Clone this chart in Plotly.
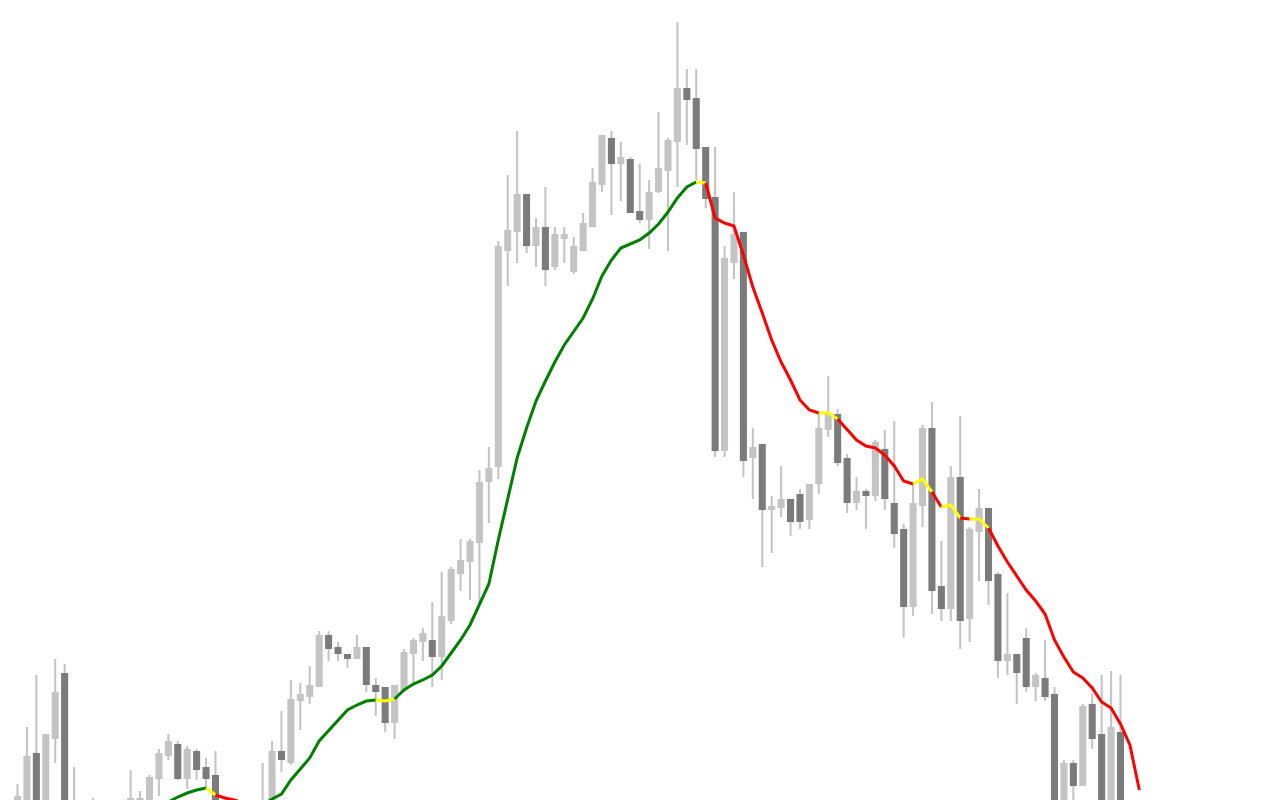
import plotly.graph_objects as go

# Candle data (price units), one entry per bar
open_ = [185, 192, 247, 194, 261, 327, 195, 178, 185, 190, 182, 188, 190, 192, 194, 221, 244, 256, 221, 249,
         233, 225, 185, 175, 182, 172, 170, 190, 249, 237, 299, 303, 313, 365, 353, 346, 341, 353, 315, 313,
         277, 310, 346, 358, 360, 343, 379, 426, 438, 457, 518, 533, 749, 768, 806, 754, 773, 733, 761, 728,
         749, 773, 815, 862, 836, 841, 789, 780, 808, 829, 858, 912, 902, 853, 803, 549, 737, 768, 542, 556,
         490, 492, 501, 506, 480, 516, 570, 586, 542, 497, 509, 504, 551, 497, 471, 393, 494, 572, 414, 391,
         523, 381, 468, 492, 426, 339, 346, 362, 313, 322, 306, 188, 237, 214, 296, 266, 190, 268, 185, 170]
high = [216, 273, 325, 266, 341, 336, 233, 195, 202, 196, 194, 198, 230, 209, 225, 251, 266, 259, 254, 251,
        242, 249, 194, 192, 190, 188, 237, 259, 289, 320, 317, 334, 369, 369, 358, 346, 365, 353, 322, 313,
        315, 351, 362, 372, 398, 428, 433, 461, 461, 530, 553, 759, 825, 869, 806, 782, 813, 773, 773, 763,
        787, 832, 865, 869, 858, 843, 836, 820, 888, 862, 978, 931, 931, 853, 853, 754, 808, 768, 572, 556,
        504, 534, 501, 511, 516, 587, 624, 591, 546, 523, 511, 560, 570, 579, 476, 516, 575, 598, 459, 534,
        584, 473, 511, 492, 428, 407, 346, 372, 327, 360, 313, 240, 240, 296, 306, 325, 329, 325, 195, 188]
low = [178, 185, 180, 188, 237, 178, 168, 170, 178, 174, 172, 180, 185, 188, 188, 204, 240, 220, 211, 220,
       212, 178, 165, 168, 162, 165, 162, 185, 228, 235, 270, 296, 313, 339, 339, 332, 341, 308, 284, 268,
       261, 308, 316, 339, 313, 320, 376, 409, 400, 395, 477, 521, 714, 737, 747, 733, 714, 730, 737, 726,
       749, 773, 808, 785, 799, 787, 777, 751, 807, 749, 813, 855, 820, 792, 543, 543, 721, 523, 501, 433,
       447, 483, 464, 471, 471, 506, 563, 534, 487, 490, 471, 499, 490, 452, 362, 384, 473, 386, 379, 379,
       351, 358, 419, 395, 322, 325, 296, 308, 299, 299, 178, 182, 190, 214, 251, 180, 185, 178, 160, 148]
close = [204, 244, 188, 266, 308, 185, 175, 188, 192, 182, 188, 192, 202, 202, 223, 247, 259, 221, 251, 230,
         221, 185, 175, 182, 172, 180, 192, 249, 240, 301, 306, 315, 365, 351, 346, 341, 353, 315, 308, 277,
         315, 348, 360, 367, 343, 384, 431, 440, 459, 518, 532, 754, 770, 806, 754, 773, 730, 766, 766, 754,
         777, 818, 865, 836, 843, 787, 780, 808, 832, 860, 912, 900, 851, 801, 549, 742, 766, 539, 553, 490,
         494, 501, 478, 478, 516, 572, 586, 537, 497, 509, 504, 558, 501, 466, 393, 497, 572, 409, 391, 523,
         379, 471, 492, 419, 339, 346, 327, 313, 325, 303, 185, 237, 214, 294, 261, 188, 273, 185, 170, 155]

# Moving average (None = not plotted)
ma = [None] * 15 + [
    192, 198, 203, 207, 210, 212, 205, 202, 200, 197, 194, 195, 201, 206, 220, 231, 242, 259, 269, 280,
    290, 295, 299, 300, 299, 301, 310, 316, 320, 325, 334, 347, 360, 375, 396, 416, 460, 500, 542, 572,
    599, 619, 638, 655, 668, 682, 701, 724, 740, 752, 756, 760, 767, 776, 788, 802, 813, 818, 817, 782,
    777, 774, 745, 713, 687, 660, 638, 620, 600, 590, 587, 587, 581, 570, 560, 554, 552, 545, 534, 519,
    516, 521, 508, 493, 495, 482, 481, 481, 472, 454, 438, 424, 410, 399, 386, 360, 343, 328, 322, 312,
    298, 292, 276, 255, 210]

# Trend runs of the MA: (first bar, last bar, state)
trend_runs = [
    (15, 20, "up"), (20, 21, "flat"), (21, 26, "down"), (26, 38, "up"), (38, 40, "flat"),
    (40, 72, "up"), (72, 73, "flat"), (73, 85, "down"), (85, 87, "flat"), (87, 95, "down"),
    (95, 97, "flat"), (97, 98, "down"), (98, 100, "flat"), (100, 101, "down"), (101, 103, "flat"),
    (103, 119, "down"),
]

LIGHT = "#c4c4c4"
DARK = "#7b7b7b"
STATE_COLORS = {"up": "#008000", "down": "#ff0000", "flat": "#ffff00"}

n = len(open_)
x = list(range(n))

fig = go.Figure()

# wicks
fig.add_trace(go.Bar(
    x=x, y=[h - l for h, l in zip(high, low)], base=low, width=0.22,
    marker=dict(color=LIGHT, line=dict(width=0)), hoverinfo="skip"))

# bodies
body_base = [min(o, c) for o, c in zip(open_, close)]
body_h = [max(abs(c - o), 1) for o, c in zip(open_, close)]
body_col = [LIGHT if c >= o else DARK for o, c in zip(open_, close)]
fig.add_trace(go.Bar(
    x=x, y=body_h, base=body_base, width=0.75,
    marker=dict(color=body_col, line=dict(width=0)),
    customdata=list(zip(open_, high, low, close)),
    hovertemplate="O %{customdata[0]}<br>H %{customdata[1]}<br>L %{customdata[2]}<br>C %{customdata[3]}<extra></extra>"))

# MA line coloured by trend
for a, b, state in trend_runs:
    fig.add_trace(go.Scatter(
        x=x[a:b + 1], y=ma[a:b + 1], mode="lines",
        line=dict(color=STATE_COLORS[state], width=3), hoverinfo="skip"))

fig.update_layout(
    width=1280, height=800,
    margin=dict(l=0, r=0, t=0, b=0),
    paper_bgcolor="white", plot_bgcolor="white",
    barmode="overlay", showlegend=False,
    xaxis=dict(range=[-1.856, 133.92], visible=False, fixedrange=True),
    yaxis=dict(range=[200, 1000], visible=False, fixedrange=True),
)

fig.write_html("out.html", post_script="document.body.style.margin='0px';",
               config={"displayModeBar": False})
